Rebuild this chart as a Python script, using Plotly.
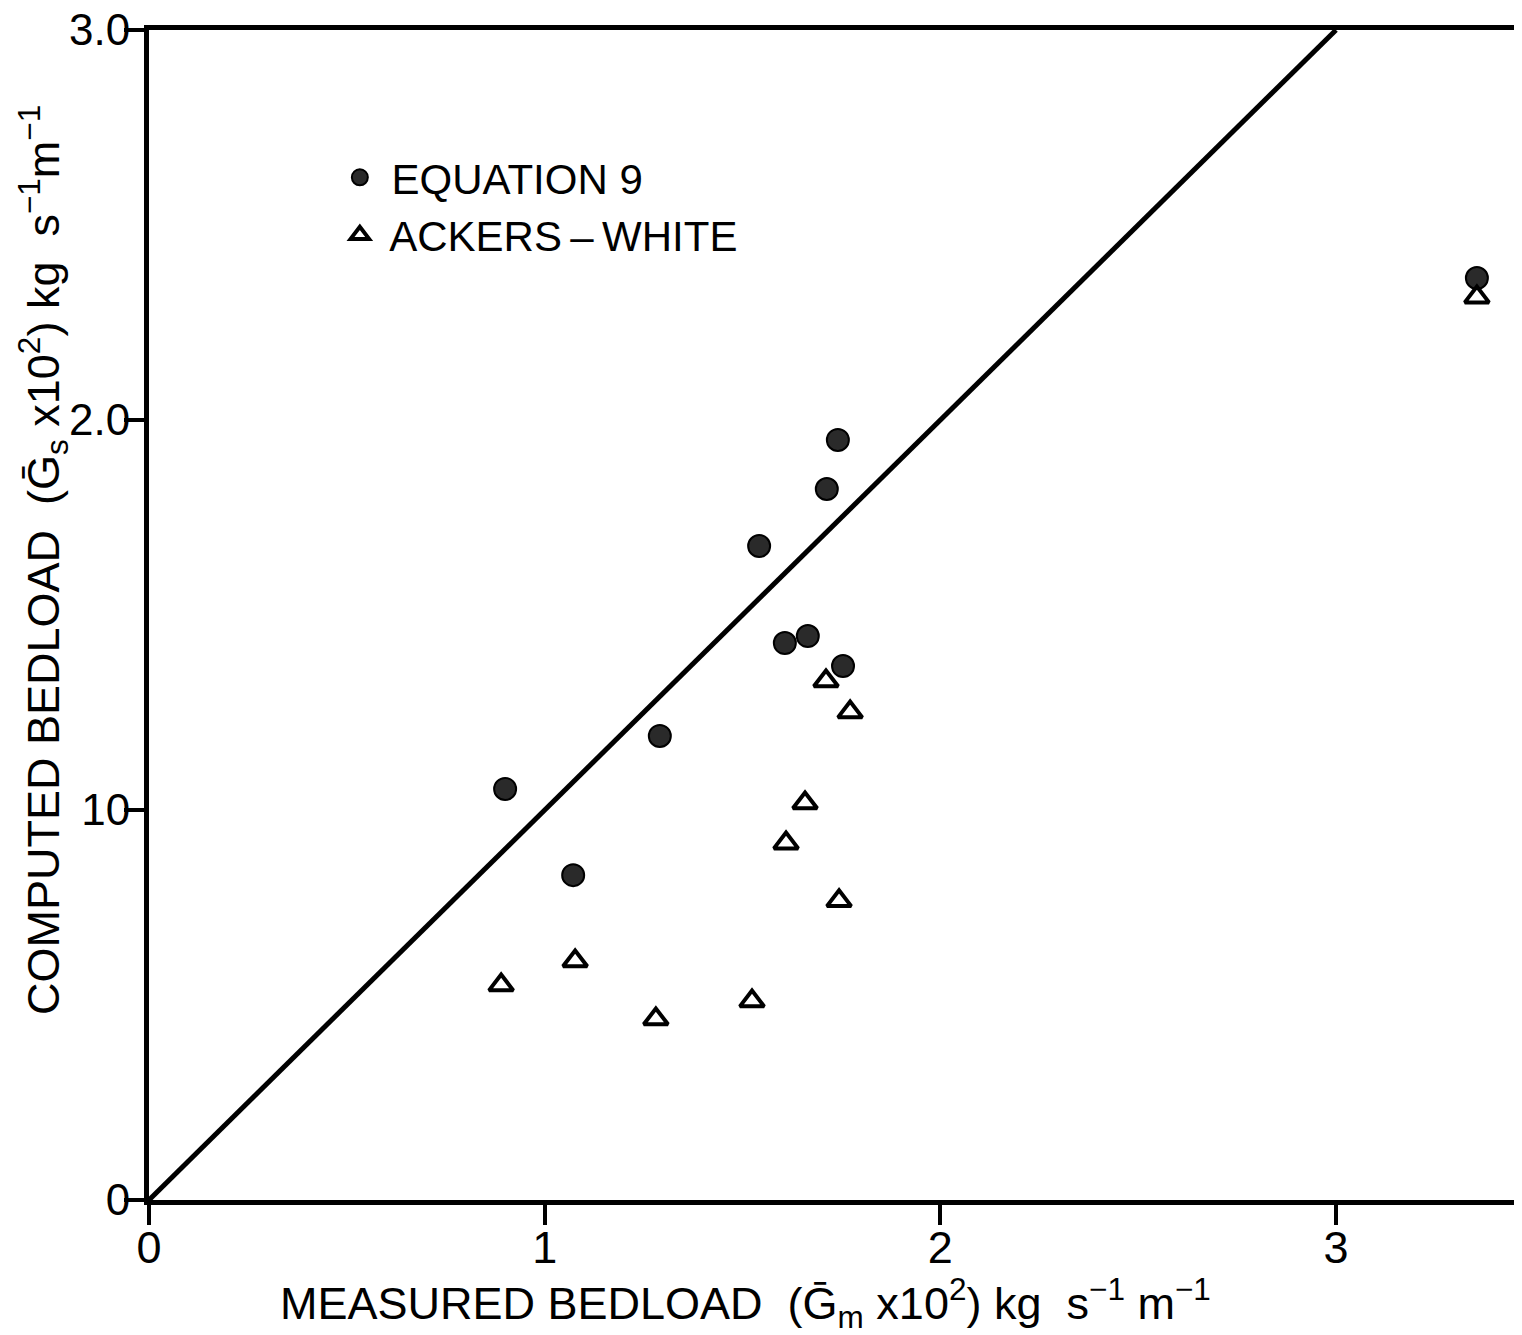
import plotly.graph_objects as go

# Equation 9 (computed vs measured)
eq9_x = [0.900, 1.072, 1.291, 1.542, 1.607, 1.665, 1.713, 1.741, 1.754, 3.356]
eq9_y = [1.054, 0.833, 1.190, 1.677, 1.428, 1.446, 1.823, 1.949, 1.369, 2.364]

# Ackers-White
aw_x = [0.890, 1.077, 1.281, 1.524, 1.610, 1.658, 1.711, 1.772, 1.744, 3.356]
aw_y = [0.551, 0.613, 0.464, 0.510, 0.915, 1.018, 1.331, 1.251, 0.767, 2.315]

# line of perfect agreement
line_x = [0, 3.0]
line_y = [0, 3.0]

x_ticks = [0, 1, 2, 3]
x_tick_labels = ["0", "1", "2", "3"]
y_ticks = [0, 1, 2, 3]
y_tick_labels = ["0", "10", "2.0", "3.0"]

FONT = "Liberation Sans, Arial, Helvetica, sans-serif"

fig = go.Figure()
fig.add_trace(go.Scatter(x=line_x, y=line_y, mode="lines",
                         line=dict(color="black", width=5),
                         showlegend=False, hoverinfo="skip"))
fig.add_trace(go.Scatter(x=eq9_x, y=eq9_y, mode="markers", name=" EQUATION 9",
                         marker=dict(symbol="circle", size=22, color="#2a2a2a",
                                     line=dict(color="black", width=2))))
fig.add_trace(go.Scatter(x=aw_x, y=aw_y, mode="markers", name=" ACKERS\u2009\u2013\u2009WHITE",
                         marker=dict(symbol="triangle-up-open", size=21, color="black",
                                     line=dict(color="black", width=4))))

fig.update_layout(
    width=1514, height=1327,
    margin=dict(l=141, r=0, t=22, b=135, autoexpand=False),
    paper_bgcolor="white", plot_bgcolor="white",
    font=dict(family=FONT, color="black", size=42),
    showlegend=True,
    legend=dict(x=0.139, y=0.903, xanchor="left", yanchor="top",
                bgcolor="rgba(0,0,0,0)", font=dict(size=42, family=FONT),
                itemsizing="trace"),
    xaxis=dict(range=[0, 3.47], tickvals=x_ticks, ticktext=x_tick_labels,
               showgrid=False, zeroline=False, showline=True, linecolor="black",
               linewidth=5, mirror=True, ticks="outside", ticklen=20, tickwidth=4,
               tickcolor="black", tickfont=dict(size=45), ticklabelstandoff=-16,
               ticklabeloverflow="allow"),
    yaxis=dict(range=[0, 3.0], tickvals=y_ticks, ticktext=y_tick_labels,
               showgrid=False, zeroline=False, showline=True, linecolor="black",
               linewidth=5, ticks="outside", ticklen=20, tickwidth=4,
               tickcolor="black", tickfont=dict(size=44), ticklabelstandoff=-15,
               ticklabeloverflow="allow"),
    annotations=[
        dict(text="MEASURED BEDLOAD  (\u1E20<sub>m</sub> x10<sup>2</sup>) kg  s<sup>\u22121</sup> m<sup>\u22121</sup>",
             xref="paper", yref="paper", x=(745 - 149) / 1373, y=-(1303 - 1200) / 1170,
             xanchor="center", yanchor="middle", showarrow=False,
             font=dict(size=45, family=FONT)),
        dict(text="COMPUTED BEDLOAD  (\u1E20<sub>s</sub> x10<sup>2</sup>) kg  s<sup>\u22121</sup>m<sup>\u22121</sup>",
             xref="paper", yref="paper", x=-(149 - 43) / 1373, y=(1200 - 560) / 1170,
             xanchor="center", yanchor="middle", textangle=-90, showarrow=False,
             font=dict(size=45, family=FONT)),
    ],
)

fig.write_html("out.html")
